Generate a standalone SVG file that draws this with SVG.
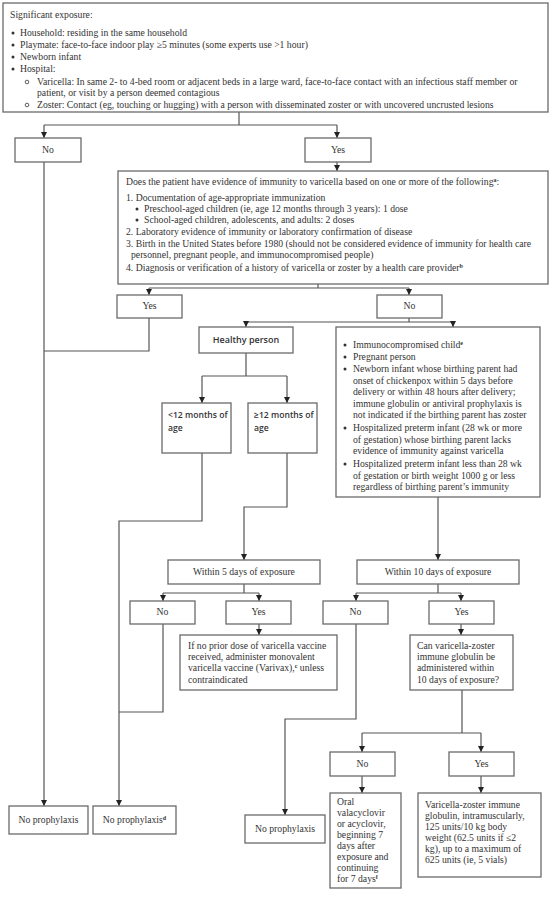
<svg xmlns="http://www.w3.org/2000/svg" width="553" height="897" viewBox="0 0 553 897">
<style>
.box{fill:#fff;stroke:#6a6a6a;stroke-width:1.3}
.t{font-family:"Liberation Serif","Times New Roman",serif;font-size:9.7px;fill:#333}
.s{font-family:"Open Sans","DejaVu Sans",sans-serif;font-size:9px;fill:#333;font-weight:600}
.m{font-size:8.6px}
.c{text-anchor:middle}
.ln{fill:none;stroke:#555;stroke-width:1.2}
.ar{fill:none;stroke:#555;stroke-width:1.2;marker-end:url(#ah)}
.bul{fill:#333}
.cir{fill:none;stroke:#333;stroke-width:0.8}
.sup{font-size:6px;font-weight:bold}
</style>
<defs>
<marker id="ah" viewBox="0 0 8 8" refX="8" refY="4" markerWidth="6" markerHeight="6" markerUnits="userSpaceOnUse" orient="auto">
<path d="M0,0 L8,4 L0,8 z" fill="#222"/>
</marker>
</defs>
<rect width="553" height="897" fill="#fff"/>

<g id="connectors">
<path class="ln" d="M239,112 V125 M44,125 H337"/>
<path class="ar" d="M44,125 V138"/>
<path class="ar" d="M337,125 V138"/>
<path class="ar" d="M44,162 V806"/>
<path class="ar" d="M337,162 V171"/>
<path class="ln" d="M318,284 V288 M149,288 H409"/>
<path class="ar" d="M149,288 V295"/>
<path class="ar" d="M409,288 V295"/>
<path class="ln" d="M149,318 V351 H44"/>
<path class="ln" d="M409,318 V322 M246,322 H453"/>
<path class="ar" d="M246,322 V327"/>
<path class="ar" d="M453,322 V327"/>
<path class="ln" d="M246,353 V376 M202,376 H287"/>
<path class="ar" d="M202,376 V403"/>
<path class="ar" d="M287,376 V403"/>
<path class="ar" d="M202,453 V521 H119 V806"/>
<path class="ar" d="M287,453 V507 H244 V560"/>
<path class="ar" d="M438,497 V560"/>
<path class="ln" d="M244,584 V593 M163,593 H259"/>
<path class="ar" d="M163,593 V601"/>
<path class="ar" d="M259,593 V601"/>
<path class="ar" d="M259,624 V635"/>
<path class="ln" d="M163,624 V712 H119"/>
<path class="ln" d="M438,584 V593 M356,593 H461"/>
<path class="ar" d="M356,593 V601"/>
<path class="ar" d="M461,593 V601"/>
<path class="ar" d="M461,624 V635"/>
<path class="ar" d="M356,624 V719 H285 V815"/>
<path class="ln" d="M462,690 V733 M362,733 H481"/>
<path class="ar" d="M362,733 V752"/>
<path class="ar" d="M481,733 V752"/>
<path class="ar" d="M362,776 V793"/>
<path class="ar" d="M481,776 V793"/>
</g>

<g id="exposure">
<rect class="box" x="3" y="3" width="545" height="109"/>
<text class="t" x="10" y="18">Significant exposure:</text>
<circle class="bul" cx="13" cy="33" r="1.5"/>
<text class="t" x="20" y="36">Household: residing in the same household</text>
<circle class="bul" cx="13" cy="45" r="1.5"/>
<text class="t" x="20" y="48">Playmate: face-to-face indoor play ≥5 minutes (some experts use &gt;1 hour)</text>
<circle class="bul" cx="13" cy="57" r="1.5"/>
<text class="t" x="20" y="60">Newborn infant</text>
<circle class="bul" cx="13" cy="69" r="1.5"/>
<text class="t" x="20" y="72">Hospital:</text>
<circle class="cir" cx="27" cy="82" r="1.8"/>
<text class="t" x="37" y="85">Varicella: In same 2- to 4-bed room or adjacent beds in a large ward, face-to-face contact with an infectious staff member or</text>
<text class="t" x="37" y="96">patient, or visit by a person deemed contagious</text>
<circle class="cir" cx="27" cy="105" r="1.8"/>
<text class="t" x="37" y="108">Zoster: Contact (eg, touching or hugging) with a person with disseminated zoster or with uncovered uncrusted lesions</text>
</g>

<g id="no1"><rect class="box" x="15" y="138" width="66" height="24"/><text class="t c" x="48" y="153">No</text></g>
<g id="yes1"><rect class="box" x="305" y="138" width="66" height="24"/><text class="t c" x="338" y="153">Yes</text></g>

<g id="immunity">
<rect class="box" x="118" y="171" width="430" height="113"/>
<text class="t" x="126" y="185">Does the patient have evidence of immunity to varicella based on one or more of the following<tspan class="sup" dy="-3">a</tspan><tspan dy="3">:</tspan></text>
<text class="t" x="126" y="201">1. Documentation of age-appropriate immunization</text>
<circle class="bul" cx="137" cy="209" r="1.5"/>
<text class="t" x="144" y="212">Preschool-aged children (ie, age 12 months through 3 years): 1 dose</text>
<circle class="bul" cx="137" cy="220" r="1.5"/>
<text class="t" x="144" y="223">School-aged children, adolescents, and adults: 2 doses</text>
<text class="t" x="126" y="235">2.  Laboratory evidence of immunity or laboratory confirmation of disease</text>
<text class="t" x="126" y="247">3.  Birth in the United States before 1980 (should not be considered evidence of immunity for health care</text>
<text class="t" x="131" y="258">personnel, pregnant people, and immunocompromised people)</text>
<text class="t" x="126" y="271">4. Diagnosis or verification of a history of varicella or zoster by a health care provider<tspan class="sup" dy="-3">b</tspan></text>
</g>

<g id="yes2"><rect class="box" x="117" y="295" width="65" height="23"/><text class="t c" x="149.5" y="309">Yes</text></g>
<g id="no2"><rect class="box" x="377" y="295" width="65" height="23"/><text class="t c" x="409.5" y="309">No</text></g>

<g id="healthy"><rect class="box" x="199" y="327" width="94" height="26"/><text class="s c" x="246" y="343">Healthy person</text></g>

<g id="risk">
<rect class="box" x="336" y="327" width="204" height="170"/>
<circle class="bul" cx="345" cy="345" r="1.5"/>
<text class="t" x="353" y="348">Immunocompromised child<tspan class="sup" dy="-3">e</tspan></text>
<circle class="bul" cx="345" cy="357" r="1.5"/>
<text class="t" x="353" y="360">Pregnant person</text>
<circle class="bul" cx="345" cy="369" r="1.5"/>
<text class="t" x="353" y="372">Newborn infant whose birthing parent had</text>
<text class="t" x="353" y="383.5">onset of chickenpox within 5 days before</text>
<text class="t" x="353" y="395">delivery or within 48 hours after delivery;</text>
<text class="t" x="353" y="406.5">immune globulin or antiviral prophylaxis is</text>
<text class="t" x="353" y="418">not indicated if the birthing parent has zoster</text>
<circle class="bul" cx="345" cy="428" r="1.5"/>
<text class="t" x="353" y="431">Hospitalized preterm infant (28 wk or more</text>
<text class="t" x="353" y="442.5">of gestation) whose birthing parent lacks</text>
<text class="t" x="353" y="454">evidence of immunity against varicella</text>
<circle class="bul" cx="345" cy="464" r="1.5"/>
<text class="t" x="353" y="467">Hospitalized preterm infant less than 28 wk</text>
<text class="t" x="353" y="478.5">of gestation or birth weight 1000 g or less</text>
<text class="t" x="353" y="490">regardless of birthing parent’s immunity</text>
</g>

<g id="lt12"><rect class="box" x="162" y="403" width="69" height="50"/><text class="s m" x="168" y="418">&lt;12 months of</text><text class="s m" x="168" y="431">age</text></g>
<g id="ge12"><rect class="box" x="248" y="403" width="69" height="50"/><text class="s m" x="254" y="418">≥12 months of</text><text class="s m" x="254" y="431">age</text></g>

<g id="within5"><rect class="box" x="168" y="560" width="152" height="24"/><text class="t c" x="244" y="575">Within 5 days of exposure</text></g>
<g id="within10"><rect class="box" x="357" y="560" width="162" height="24"/><text class="t c" x="438" y="575">Within 10 days of exposure</text></g>

<g id="no3"><rect class="box" x="130" y="601" width="65" height="23"/><text class="t c" x="162.5" y="615">No</text></g>
<g id="yes3"><rect class="box" x="226" y="601" width="65" height="23"/><text class="t c" x="258.5" y="615">Yes</text></g>
<g id="no4"><rect class="box" x="323" y="601" width="65" height="23"/><text class="t c" x="355.5" y="615">No</text></g>
<g id="yes4"><rect class="box" x="429" y="601" width="65" height="23"/><text class="t c" x="461.5" y="615">Yes</text></g>

<g id="vaccine">
<rect class="box" x="180" y="635" width="157" height="55"/>
<text class="t" x="188" y="649">If no prior dose of varicella vaccine</text>
<text class="t" x="188" y="660">received, administer monovalent</text>
<text class="t" x="188" y="671">varicella vaccine (Varivax),<tspan class="sup" dy="-3">c</tspan><tspan dy="3"> unless</tspan></text>
<text class="t" x="188" y="683">contraindicated</text>
</g>

<g id="vzigq">
<rect class="box" x="410" y="635" width="103" height="55"/>
<text class="t" x="417" y="649">Can varicella-zoster</text>
<text class="t" x="417" y="660">immune globulin be</text>
<text class="t" x="417" y="671">administered within</text>
<text class="t" x="417" y="683">10 days of exposure?</text>
</g>

<g id="no5"><rect class="box" x="330" y="752" width="65" height="24"/><text class="t c" x="362.5" y="767">No</text></g>
<g id="yes5"><rect class="box" x="449" y="752" width="65" height="24"/><text class="t c" x="481.5" y="767">Yes</text></g>

<g id="oral">
<rect class="box" x="330" y="793" width="71" height="95"/>
<text class="t" x="337" y="805">Oral</text>
<text class="t" x="337" y="816">valacyclovir</text>
<text class="t" x="337" y="827">or acyclovir,</text>
<text class="t" x="337" y="838">beginning 7</text>
<text class="t" x="337" y="849">days after</text>
<text class="t" x="337" y="860">exposure and</text>
<text class="t" x="337" y="871">continuing</text>
<text class="t" x="337" y="882">for 7 days<tspan class="sup" dy="-3">f</tspan></text>
</g>

<g id="vzig">
<rect class="box" x="418" y="793" width="123" height="84"/>
<text class="t" x="425" y="808">Varicella-zoster immune</text>
<text class="t" x="425" y="819">globulin, intramuscularly,</text>
<text class="t" x="425" y="830">125 units/10 kg body</text>
<text class="t" x="425" y="841">weight (62.5 units if ≤2</text>
<text class="t" x="425" y="852">kg), up to a maximum of</text>
<text class="t" x="425" y="863">625 units (ie, 5 vials)</text>
</g>

<g id="noproph1"><rect class="box" x="9" y="806" width="79" height="28"/><text class="t c" x="48.5" y="823">No prophylaxis</text></g>
<g id="noproph2"><rect class="box" x="93" y="806" width="83" height="28"/><text class="t c" x="134.5" y="823">No prophylaxis<tspan class="sup" dy="-3">d</tspan></text></g>
<g id="noproph3"><rect class="box" x="245" y="815" width="80" height="28"/><text class="t c" x="285" y="832">No prophylaxis</text></g>
</svg>
